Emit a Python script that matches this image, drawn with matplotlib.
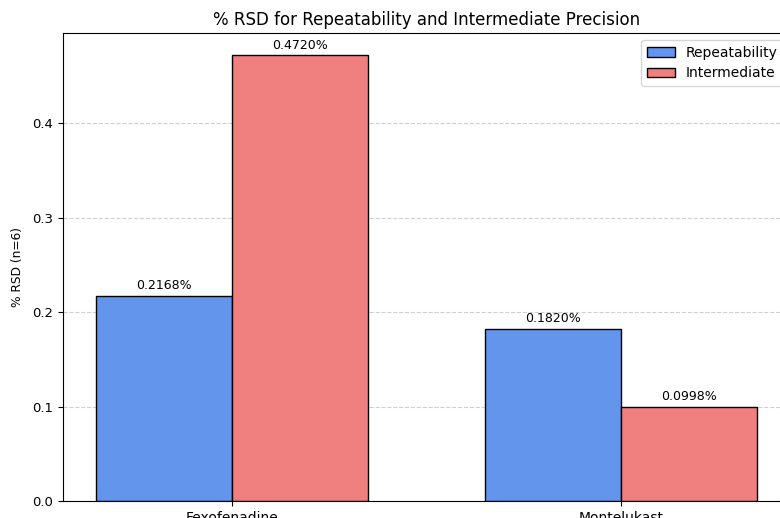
import matplotlib
matplotlib.use("Agg")
import matplotlib.pyplot as plt
import numpy as np

drugs = ["Fexofenadine", "Montelukast"]
repeatability = [0.2168, 0.1820]
intermediate = [0.4720, 0.0998]

x = np.arange(len(drugs))
w = 0.35

fig = plt.figure(figsize=(7.8, 5.18), dpi=100)
ax = fig.add_axes([63/780, 17/518, 727/780, 468/518])

b1 = ax.bar(x - w/2, repeatability, w, label="Repeatability", color="cornflowerblue", edgecolor="black")
b2 = ax.bar(x + w/2, intermediate, w, label="Intermediate", color="lightcoral", edgecolor="black")

for bars in (b1, b2):
    for b in bars:
        h = b.get_height()
        ax.text(b.get_x() + b.get_width()/2, h + 0.004, f"{h:.4f}%", ha="center", va="bottom", fontsize=9)

ax.set_xticks(x)
ax.set_xticklabels(drugs, fontsize=10)
ax.tick_params(axis="y", labelsize=9.5)
ax.set_ylabel("% RSD (n=6)", fontsize=8.8, labelpad=6)
ax.set_title("% RSD for Repeatability and Intermediate Precision", fontsize=12)
ax.legend(loc="upper right", fontsize=10)
ax.yaxis.grid(True, linestyle="--", alpha=0.6)
ax.set_axisbelow(True)

fig.savefig("out.png", dpi=100)
